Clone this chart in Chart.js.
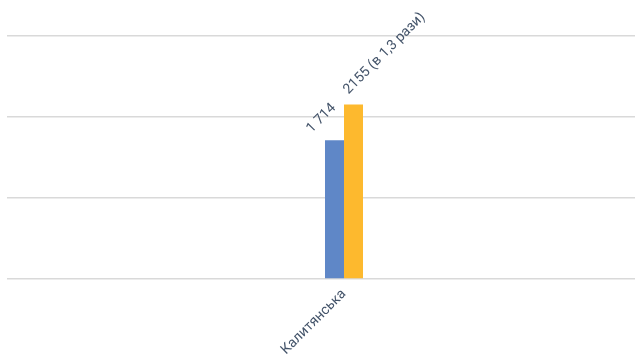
<!DOCTYPE html>
<html>
<head>
<meta charset="utf-8">
<script src="https://cdn.jsdelivr.net/npm/chart.js@4/dist/chart.umd.min.js"></script>
<style>
  html, body { margin: 0; padding: 0; background: #fff; overflow: hidden; }
  #wrap { width: 681px; height: 356px; }
</style>
</head>
<body>
<div id="wrap"><canvas id="myChart"></canvas></div>
<script>
const categories = ['Калитянська'];
const valuesBefore = [1714];
const valuesAfter = [2155];
const labelsBefore = ['1 714'];
const labelsAfter = ['2155 (в 1,3 рази)'];

const textColor = '#44546a';

// rotated value labels above the bars
const rotatedLabels = {
    id: 'rotatedLabels',
    afterDatasetsDraw(chart, args, opts) {
        const ctx = chart.ctx;
        chart.data.datasets.forEach((ds, i) => {
            const meta = chart.getDatasetMeta(i);
            const off = opts.offsets[i];
            meta.data.forEach((bar, j) => {
                ctx.save();
                ctx.translate(bar.x + off[0], bar.y + off[1]);
                ctx.rotate(-Math.PI / 4);
                ctx.font = '14px Roboto';
                ctx.fillStyle = textColor;
                ctx.textAlign = 'left';
                ctx.textBaseline = 'alphabetic';
                ctx.fillText(ds.valueLabels[j], 0, 0);
                ctx.restore();
            });
        });
    }
};

new Chart(document.querySelector('#myChart'), {
    type: 'bar',
    data: {
        labels: categories,
        datasets: [
            { data: valuesBefore, valueLabels: labelsBefore, backgroundColor: '#5f87c7' },
            { data: valuesAfter, valueLabels: labelsAfter, backgroundColor: '#fdb92e' }
        ]
    },
    options: {
        responsive: true,
        maintainAspectRatio: false,
        animation: false,
        layout: { padding: { left: 7, right: 0, top: 36, bottom: 0 } },
        datasets: { bar: { categoryPercentage: 0.0564, barPercentage: 1 } },
        plugins: {
            legend: { display: false },
            tooltip: { enabled: false },
            rotatedLabels: { offsets: [[-23, -7], [-5, -10]] }
        },
        scales: {
            x: {
                grid: { display: false, drawTicks: false },
                border: { display: false },
                ticks: {
                    color: textColor,
                    font: { family: 'Roboto', size: 14 },
                    minRotation: 45,
                    maxRotation: 45,
                    padding: 7
                },
                afterFit: (s) => { s.height = 77; }
            },
            y: {
                min: 0,
                max: 3000,
                ticks: { display: false, stepSize: 1000 },
                grid: { color: '#d9d9d9', lineWidth: 1.5, drawTicks: false },
                border: { display: false },
                afterFit: (s) => { s.width = 0; }
            }
        }
    },
    plugins: [rotatedLabels]
});
</script>
</body>
</html>
